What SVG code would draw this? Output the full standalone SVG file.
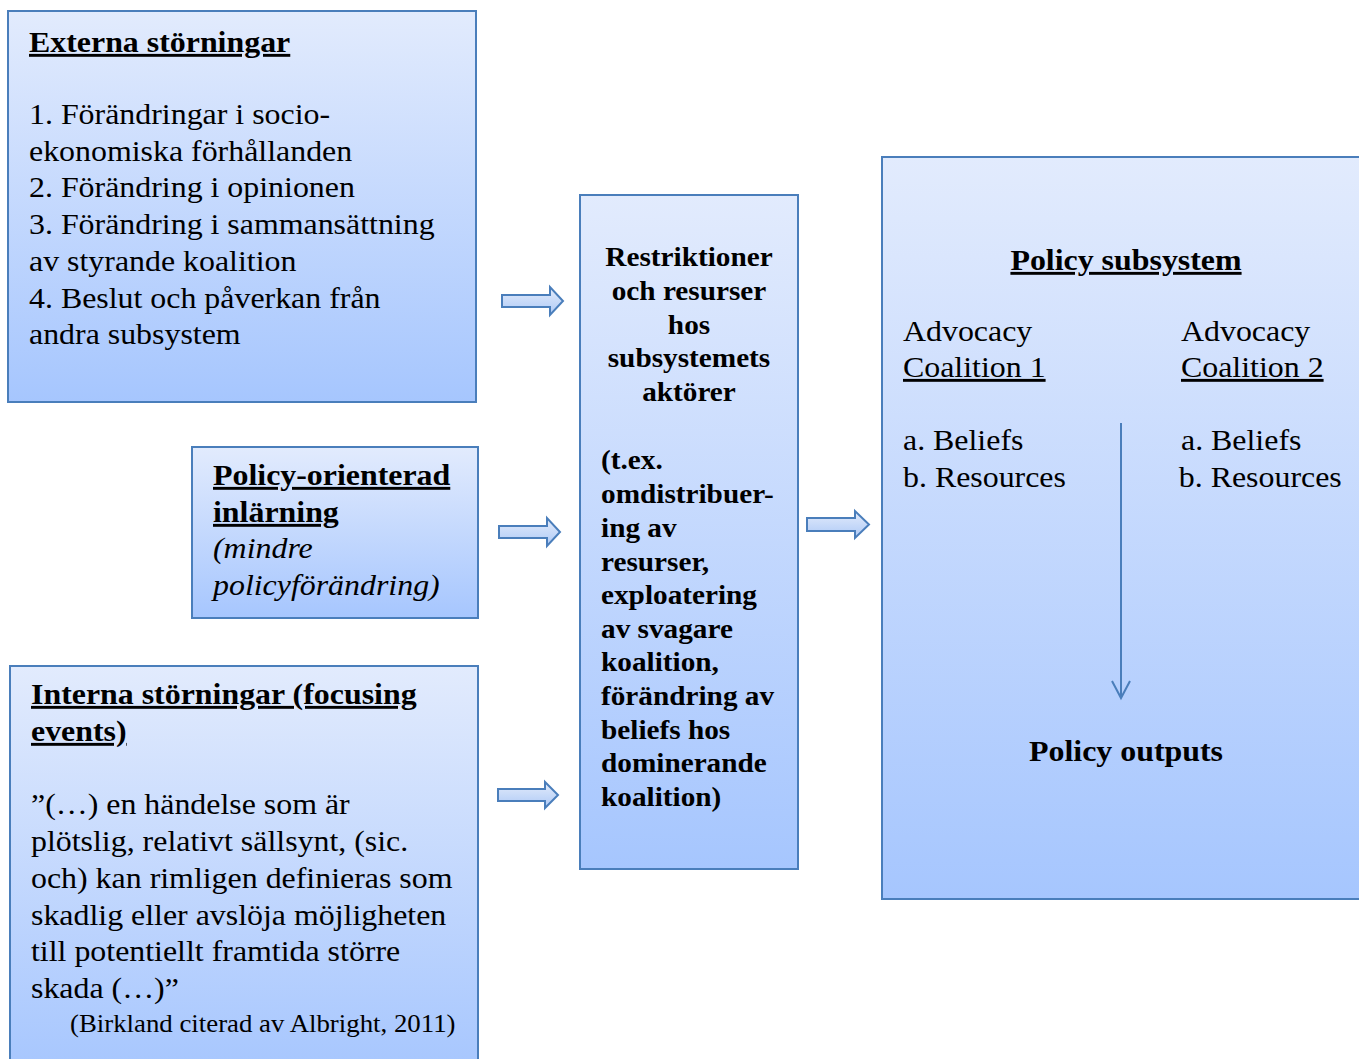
<svg xmlns="http://www.w3.org/2000/svg" width="1359" height="1059" viewBox="0 0 1359 1059">
<defs>
<linearGradient id="bg" x1="0" y1="0" x2="0" y2="1">
<stop offset="0" stop-color="#e2ebfd"/>
<stop offset="1" stop-color="#a6c6fe"/>
</linearGradient>
<linearGradient id="ag" x1="0" y1="0" x2="0" y2="1">
<stop offset="0" stop-color="#e4ecfb"/>
<stop offset="1" stop-color="#adc9f6"/>
</linearGradient>
<style>
.box{fill:url(#bg);stroke:#4a7ebb;stroke-width:2}
.arr{fill:url(#ag);stroke:#4a7ebb;stroke-width:2;stroke-linejoin:miter}
text{font-family:"Liberation Serif","Times New Roman",serif;fill:#000}
.r{font-size:29px}
.b{font-size:29px;font-weight:bold}
.m{font-size:26.6px;font-weight:bold}
.u{text-decoration:underline;text-decoration-skip-ink:none;text-decoration-thickness:2px}
.i{font-style:italic}
.s{font-size:24.4px}
</style>
</defs>

<g id="externa">
<rect class="box" x="8" y="11" width="468" height="391"/>
<g transform="translate(29 0) scale(1.1 1)">
<text class="b u" x="0" y="52">Externa störningar</text>
<text class="r" x="0" y="124">1. Förändringar i socio-</text>
<text class="r" x="0" y="161">ekonomiska förhållanden</text>
<text class="r" x="0" y="197">2. Förändring i opinionen</text>
<text class="r" x="0" y="234">3. Förändring i sammansättning</text>
<text class="r" x="0" y="271">av styrande koalition</text>
<text class="r" x="0" y="308">4. Beslut och påverkan från</text>
<text class="r" x="0" y="344">andra subsystem</text>
</g>
</g>

<g id="learning">
<rect class="box" x="192" y="447" width="286" height="171"/>
<g transform="translate(213 0) scale(1.1 1)">
<text class="b u" x="0" y="485">Policy-orienterad</text>
<text class="b u" x="0" y="522">inlärning</text>
<text class="r i" x="0" y="558">(mindre</text>
<text class="r i" x="0" y="595">policyförändring)</text>
</g>
</g>

<g id="interna">
<rect class="box" x="10" y="666" width="468" height="410"/>
<g transform="translate(31 0) scale(1.1 1)">
<text class="b u" x="0" y="704">Interna störningar (focusing</text>
<text class="b u" x="0" y="741">events)</text>
<text class="r" x="0" y="814">”(…) en händelse som är</text>
<text class="r" x="0" y="851">plötslig, relativt sällsynt, (sic.</text>
<text class="r" x="0" y="888">och) kan rimligen definieras som</text>
<text class="r" x="0" y="925">skadlig eller avslöja möjligheten</text>
<text class="r" x="0" y="961">till potentiellt framtida större</text>
<text class="r" x="0" y="998">skada (…)”</text>
</g>
<g transform="translate(70 0) scale(1.1 1)">
<text class="s" x="0" y="1032">(Birkland citerad av Albright, 2011)</text>
</g>
</g>

<g id="restriktioner">
<rect class="box" x="580" y="195" width="218" height="674"/>
<g transform="translate(689 0) scale(1.1 1)" text-anchor="middle">
<text class="m" x="0" y="266">Restriktioner</text>
<text class="m" x="0" y="300">och resurser</text>
<text class="m" x="0" y="334">hos</text>
<text class="m" x="0" y="367">subsystemets</text>
<text class="m" x="0" y="401">aktörer</text>
</g>
<g transform="translate(601 0) scale(1.1 1)">
<text class="m" x="0" y="469">(t.ex.</text>
<text class="m" x="0" y="503">omdistribuer-</text>
<text class="m" x="0" y="537">ing av</text>
<text class="m" x="0" y="571">resurser,</text>
<text class="m" x="0" y="604">exploatering</text>
<text class="m" x="0" y="638">av svagare</text>
<text class="m" x="0" y="671">koalition,</text>
<text class="m" x="0" y="705">förändring av</text>
<text class="m" x="0" y="739">beliefs hos</text>
<text class="m" x="0" y="772">dominerande</text>
<text class="m" x="0" y="806">koalition)</text>
</g>
</g>

<g id="subsystem">
<rect class="box" x="882" y="157" width="500" height="742"/>
<g transform="translate(1126 0) scale(1.1 1)" text-anchor="middle">
<text class="b u" x="0" y="270">Policy subsystem</text>
<text class="b" x="0" y="761">Policy outputs</text>
</g>
<g transform="translate(903 0) scale(1.1 1)">
<text class="r" x="0" y="341">Advocacy</text>
<text class="r u" x="0" y="377">Coalition 1</text>
<text class="r" x="0" y="450">a. Beliefs</text>
<text class="r" x="0" y="487">b. Resources</text>
</g>
<g transform="translate(1181 0) scale(1.1 1)">
<text class="r" x="0" y="341">Advocacy</text>
<text class="r u" x="0" y="377">Coalition 2</text>
<text class="r" x="0" y="450">a. Beliefs</text>
<text class="r" x="-2" y="487">b. Resources</text>
</g>
</g>

<g id="connectors">
<path class="arr" transform="translate(502 301)" d="M0,-6 H48 V-14 L61,0 L48,14 V6 H0 Z"/>
<path class="arr" transform="translate(499 532)" d="M0,-6 H48 V-14 L61,0 L48,14 V6 H0 Z"/>
<path class="arr" transform="translate(498 795)" d="M0,-6 H47 V-13 L60,0 L47,13 V6 H0 Z"/>
<path class="arr" transform="translate(807 524.5)" d="M0,-6.5 H48 V-13.5 L62,0 L48,13.5 V6.5 H0 Z"/>
<line x1="1121" y1="423" x2="1121" y2="697" stroke="#4a7ebb" stroke-width="2"/>
<polyline points="1112,681 1121,698 1130,681" fill="none" stroke="#4a7ebb" stroke-width="2"/>
</g>
</svg>
